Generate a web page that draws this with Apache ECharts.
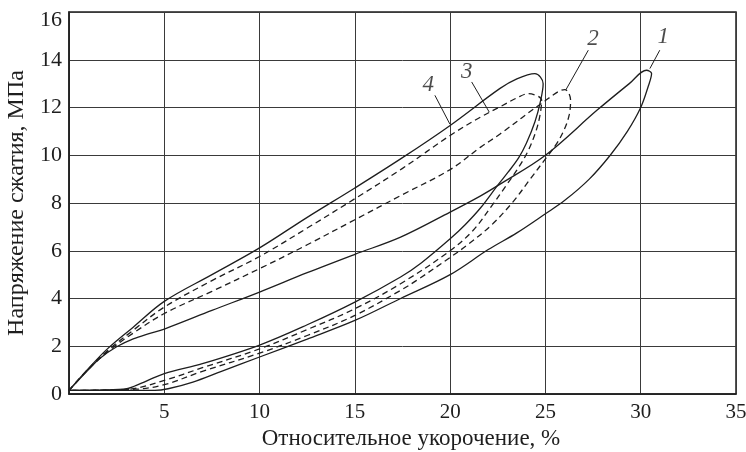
<!DOCTYPE html>
<html><head><meta charset="utf-8">
<script src="https://cdn.jsdelivr.net/npm/echarts@6/dist/echarts.min.js"></script>
<style>html,body{margin:0;padding:0;background:#fff}#c{width:746px;height:452px}</style>
</head><body><div id="c"></div>
<script>
// Axis ticks
const xTicks = [0, 5, 10, 15, 20, 25, 30, 35];
const yTicks = [0, 2, 4, 6, 8, 10, 12, 14, 16];
const xTitle = 'Относительное укорочение, %';
const yTitle = 'Напряжение сжатия, МПа';

// Curve 1 (solid): loading and unloading branches [strain %, stress MPa]
const curve1Load = [[0,0.15],[1,1.0],[1.63,1.5],[2.5,1.98],[3.37,2.31],[4.2,2.53],[5,2.72],[7.5,3.5],[10,4.27],[12.5,5.08],[15,5.85],[17.4,6.57],[20,7.62],[21.6,8.3],[22.6,8.78],[25,10.0],[27.7,11.88],[29.4,13.0],[30.3,13.56],[30.57,13.42]];
const curve1Unload = [[30.57,13.42],[30.4,12.9],[30.0,12.0],[29.3,11.0],[28.4,10.0],[27.3,9.0],[26.0,8.1],[25,7.55],[23.5,6.75],[22,6.05],[20,5.0],[17.4,4.0],[15,3.08],[12.5,2.3],[10,1.55],[8,0.95],[6.5,0.5],[5.2,0.22],[4.5,0.15],[0,0.15]];
// Curve 2 (dashed)
const curve2Load = [[0,0.15],[1,1.02],[2,1.75],[3.37,2.55],[5,3.37],[7.5,4.3],[10,5.25],[12.5,6.25],[15,7.3],[17.5,8.35],[20,9.4],[21.6,10.34],[22.6,10.88],[24.9,12.23],[26.02,12.75],[26.32,12.3]];
const curve2Unload = [[26.32,12.3],[26.25,11.7],[26.0,11.1],[25.6,10.5],[25.0,9.85],[24.2,9.0],[23.3,8.05],[22.2,7.1],[21.0,6.3],[20,5.72],[18.24,4.76],[17.4,4.34],[15,3.29],[12.5,2.45],[10,1.71],[7,0.95],[5,0.39],[3.5,0.2],[0,0.15]];
// Curve 3 (dashed)
const curve3Load = [[0,0.15],[1,1.04],[2,1.8],[3.37,2.67],[5,3.64],[7.5,4.75],[10,5.76],[12.5,6.95],[15,8.18],[17.5,9.45],[20,10.83],[21.6,11.6],[22.6,12.02],[23.5,12.4],[24.1,12.58],[24.8,12.3]];
const curve3Unload = [[24.8,12.3],[24.72,11.7],[24.5,11.0],[24.1,10.2],[23.6,9.5],[23.0,8.8],[22.2,7.9],[21.2,6.85],[20,6.0],[17.4,4.62],[15,3.57],[12.5,2.7],[10,1.89],[7,1.1],[5,0.57],[3.1,0.2],[0,0.15]];
// Curve 4 (solid)
const curve4Load = [[0,0.15],[1,1.05],[2,1.88],[3.37,2.8],[5,3.88],[7.5,5.0],[10,6.12],[12.5,7.4],[15,8.63],[17.5,9.9],[20,11.25],[22.6,12.79],[23.5,13.2],[24.45,13.42],[24.88,13.0]];
const curve4Unload = [[24.88,13.0],[24.75,12.3],[24.45,11.4],[24.0,10.5],[23.6,9.9],[23.05,9.3],[22.5,8.75],[21.6,7.8],[20.8,7.1],[20,6.5],[18.5,5.5],[17.4,4.9],[15,3.85],[12.5,2.9],[10,2.05],[7,1.27],[5,0.85],[3.5,0.35],[2.88,0.2],[0,0.15]];

// Curve labels: text, label position, leader start/end (data units)
const labelNames = ['1', '2', '3', '4'];
const labelAt = [[31.18,14.95],[27.5,14.89],[20.87,13.49],[18.85,12.93]];
const leaderFrom = [[31.0,14.4],[27.25,14.4],[21.13,13.07],[19.2,12.51]];
const leaderTo = [[30.48,13.63],[26.08,12.75],[22.05,11.81],[19.99,11.3]];

const INK = '#1e1e1e';
const FONT = 'Liberation Serif';

function loop(load, unload) { return load.concat(unload.slice(1)); }
function curveSeries(name, data, dashed) {
  return {
    name: name, type: 'line', data: data, smooth: 0.35, showSymbol: false, symbol: 'none',
    lineStyle: { color: INK, width: 1.3, type: dashed ? [6, 4] : 'solid' },
    silent: true, animation: false, z: 3
  };
}

const series = [
  curveSeries('1', loop(curve1Load, curve1Unload), false),
  curveSeries('2', loop(curve2Load, curve2Unload), true),
  curveSeries('3', loop(curve3Load, curve3Unload), true),
  curveSeries('4', loop(curve4Load, curve4Unload), false)
];
// leader lines and labels
labelNames.forEach(function (t, i) {
  series.push({
    type: 'line', data: [leaderFrom[i], leaderTo[i]], showSymbol: false, symbol: 'none',
    lineStyle: { color: INK, width: 1 }, silent: true, animation: false, z: 4
  });
  series.push({
    type: 'scatter', data: [labelAt[i]], symbolSize: 0, silent: true, animation: false,
    label: { show: true, position: 'inside', formatter: t, fontFamily: FONT, fontStyle: 'italic',
      fontSize: 23, color: INK }
  });
});

const yMax = yTicks[yTicks.length - 1];
const chart = echarts.init(document.getElementById('c'), null, { renderer: 'canvas' });
chart.setOption({
  animation: false,
  backgroundColor: '#fff',
  grid: { left: 69, right: 10, top: 12, bottom: 58, show: true, borderColor: INK, borderWidth: 1.5,
    containLabel: false, outerBoundsMode: 'none' },
  xAxis: {
    type: 'value', min: xTicks[0], max: xTicks[xTicks.length - 1], interval: 5,
    name: xTitle, nameLocation: 'middle', nameGap: 31,
    nameTextStyle: { fontFamily: FONT, fontSize: 23, color: INK, padding: [0, 0, 0, 17] },
    axisLine: { lineStyle: { color: INK, width: 1.5 } },
    axisTick: { show: false },
    axisLabel: { fontFamily: FONT, fontSize: 21, color: INK, margin: 8,
      formatter: function (v) { return v === 0 ? '' : String(v); } },
    splitLine: { show: true, lineStyle: { color: '#3a3a3a', width: 1 } }
  },
  yAxis: {
    type: 'value', min: yTicks[0], max: yMax, interval: 2,
    name: yTitle, nameLocation: 'middle', nameGap: 35, nameRotate: 90,
    nameTextStyle: { fontFamily: FONT, fontSize: 24, color: INK },
    axisLine: { lineStyle: { color: INK, width: 1.5 } },
    axisTick: { show: false },
    axisLabel: { fontFamily: FONT, fontSize: 22, color: INK, margin: 7,
      formatter: function (v) { return v === yMax ? '{top|' + v + '}' : String(v); },
      rich: { top: { fontFamily: FONT, fontSize: 22, color: INK, padding: [16, 0, 0, 0] } } },
    splitLine: { show: true, lineStyle: { color: '#3a3a3a', width: 1 } }
  },
  series: series
});
</script></body></html>
